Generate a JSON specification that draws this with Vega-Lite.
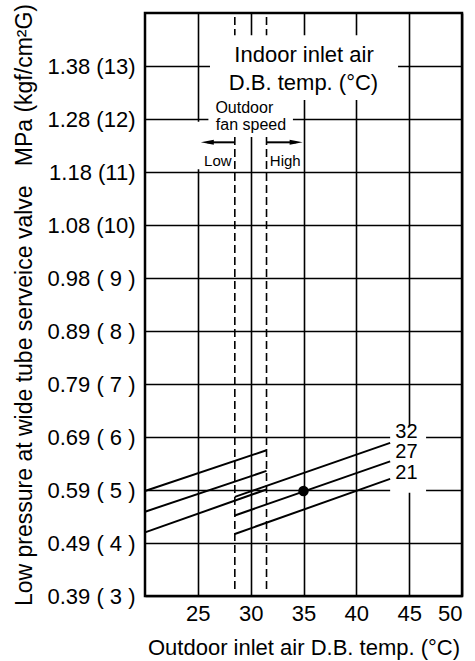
{
  "$schema": "https://vega.github.io/schema/vega-lite/v6.json",
  "autosize": {"type": "none"},
  "padding": {"left": 145, "top": 13, "right": 13, "bottom": 65},
  "width": 317,
  "height": 583,
  "config": {
    "font": "Liberation Sans",
    "view": {"stroke": "#000", "strokeWidth": 2.5},
    "axis": {
      "domain": false,
      "ticks": false,
      "tickSize": 0,
      "grid": true,
      "gridColor": "#000",
      "gridOpacity": 1,
      "gridWidth": 1.6,
      "labelFont": "Liberation Sans",
      "labelFontSize": 22,
      "labelColor": "#000",
      "titleFont": "Liberation Sans",
      "titleFontSize": 22,
      "titleFontWeight": "normal",
      "titleColor": "#000"
    }
  },
  "datasets": {
    "lines": [
      {"series": "low32", "t": 20, "p": 4.98},
      {"series": "low32", "t": 31.5, "p": 5.75},
      {"series": "low27", "t": 20, "p": 4.59},
      {"series": "low27", "t": 31.5, "p": 5.36},
      {"series": "low21", "t": 20, "p": 4.2},
      {"series": "low21", "t": 31.5, "p": 5.01},
      {"series": "high32", "t": 28.5, "p": 4.87},
      {"series": "high32", "t": 43.2, "p": 5.89},
      {"series": "high27", "t": 28.5, "p": 4.52},
      {"series": "high27", "t": 43.2, "p": 5.54},
      {"series": "high21", "t": 28.5, "p": 4.17},
      {"series": "high21", "t": 43.2, "p": 5.21}
    ],
    "dashes": [
      {"t": 28.5, "p1": 3.13, "p2": 14},
      {"t": 31.5, "p1": 3.13, "p2": 14}
    ],
    "masks": [
      {"t1": 26.15, "t2": 43.95, "p1": 12.36, "p2": 13.58},
      {"t1": 26.0, "t2": 34.0, "p1": 11.66, "p2": 12.36},
      {"t1": 24.6, "t2": 28.3, "p1": 11.05, "p2": 11.95},
      {"t1": 43.2, "t2": 46.6, "p1": 4.95, "p2": 6.2}
    ],
    "arrows": [
      {"dir": "left", "t": 28.5, "p": 11.56},
      {"dir": "left", "t": 25.9, "p": 11.56},
      {"dir": "right", "t": 31.5, "p": 11.56},
      {"dir": "right", "t": 34.3, "p": 11.56}
    ],
    "bigtext": [
      {"t": 35.05, "p": 13.2, "label": "Indoor inlet air"},
      {"t": 35.0, "p": 12.68, "label": "D.B. temp. (°C)"}
    ],
    "curvelabels": [
      {"t": 44.74, "p": 6.09, "label": "32"},
      {"t": 44.74, "p": 5.71, "label": "27"},
      {"t": 44.74, "p": 5.33, "label": "21"}
    ],
    "midtext": [
      {"t": 29.4, "p": 12.2, "label": "Outdoor"},
      {"t": 30.03, "p": 11.89, "label": "fan speed"}
    ],
    "smalltext": [
      {"t": 26.89, "p": 11.21, "label": "Low"},
      {"t": 33.27, "p": 11.21, "label": "High"}
    ],
    "point": [
      {"t": 35, "p": 4.98}
    ]
  },
  "encoding": {
    "x": {
      "field": "t",
      "type": "quantitative",
      "scale": {"domain": [20, 50], "nice": false, "zero": false},
      "axis": {
        "values": [25, 30, 35, 40, 45, 50],
        "labelPadding": 7,
        "labelBaseline": "top",
        "title": "Outdoor inlet air D.B. temp. (°C)",
        "titlePadding": 13
      }
    },
    "y": {
      "field": "p",
      "type": "quantitative",
      "scale": {"domain": [3, 14], "nice": false, "zero": false},
      "axis": {
        "values": [3, 4, 5, 6, 7, 8, 9, 10, 11, 12, 13],
        "labelPadding": 10,
        "labelExpr": "['0.39 ( 3 )','0.49 ( 4 )','0.59 ( 5 )','0.69 ( 6 )','0.79 ( 7 )','0.89 ( 8 )','0.98 ( 9 )','1.08 (10)','1.18 (11)','1.28 (12)','1.38 (13)'][datum.value - 3]",
        "title": "Low pressure at wide tube serveice valve\u00a0\u00a0 MPa (kgf/cm²G)",
        "titleFontSize": 23,
        "titlePadding": 10
      }
    }
  },
  "layer": [
    {
      "data": {"name": "dashes"},
      "mark": {"type": "rule", "color": "#000", "strokeWidth": 1.6, "strokeDash": [8, 4]},
      "encoding": {
        "y": {"field": "p1", "type": "quantitative"},
        "y2": {"field": "p2"}
      }
    },
    {
      "data": {"name": "masks"},
      "mark": {"type": "rect", "fill": "#fff", "stroke": null},
      "encoding": {
        "x": {"field": "t1", "type": "quantitative"},
        "x2": {"field": "t2"},
        "y": {"field": "p1", "type": "quantitative"},
        "y2": {"field": "p2"}
      }
    },
    {
      "data": {"name": "lines"},
      "mark": {"type": "line", "color": "#000", "strokeWidth": 2},
      "encoding": {
        "detail": {"field": "series", "type": "nominal"}
      }
    },
    {
      "data": {"name": "point"},
      "mark": {"type": "point", "filled": true, "color": "#000", "opacity": 1, "size": 110},
      "encoding": {}
    },
    {
      "data": {"name": "arrows"},
      "mark": {"type": "line", "color": "#000", "strokeWidth": 2},
      "encoding": {
        "detail": {"field": "dir", "type": "nominal"}
      }
    },
    {
      "data": {"name": "arrows"},
      "transform": [{"filter": "datum.dir == 'left' && datum.t < 27"}],
      "mark": {"type": "point", "filled": true, "color": "#000", "opacity": 1, "size": 169, "shape": "M -1 0 L 1 -0.38 L 1 0.38 Z"},
      "encoding": {}
    },
    {
      "data": {"name": "arrows"},
      "transform": [{"filter": "datum.dir == 'right' && datum.t > 33"}],
      "mark": {"type": "point", "filled": true, "color": "#000", "opacity": 1, "size": 169, "shape": "M 1 0 L -1 -0.38 L -1 0.38 Z"},
      "encoding": {}
    },
    {
      "data": {"name": "bigtext"},
      "mark": {"type": "text", "fontSize": 22, "color": "#000", "align": "center", "baseline": "middle"},
      "encoding": {"text": {"field": "label"}}
    },
    {
      "data": {"name": "curvelabels"},
      "mark": {"type": "text", "fontSize": 20, "color": "#000", "align": "center", "baseline": "middle"},
      "encoding": {"text": {"field": "label"}}
    },
    {
      "data": {"name": "midtext"},
      "mark": {"type": "text", "fontSize": 16, "color": "#000", "align": "center", "baseline": "middle"},
      "encoding": {"text": {"field": "label"}}
    },
    {
      "data": {"name": "smalltext"},
      "mark": {"type": "text", "fontSize": 15, "color": "#000", "align": "center", "baseline": "middle"},
      "encoding": {"text": {"field": "label"}}
    }
  ]
}
